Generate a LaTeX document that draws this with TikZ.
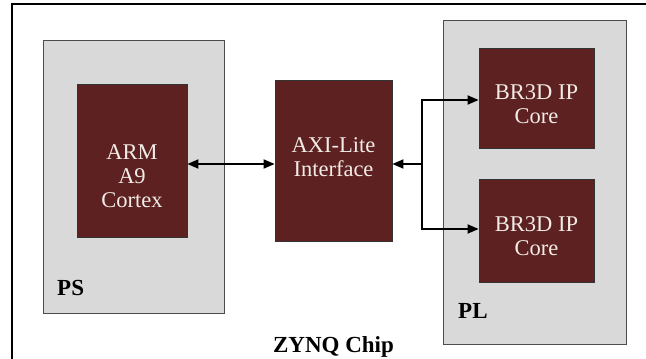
\documentclass[tikz,border=0pt]{standalone}
\usepackage{fontspec}
\setmainfont{Liberation Serif}
\usetikzlibrary{arrows.meta}
\definecolor{maroon}{HTML}{5E2121}
\definecolor{panelgray}{HTML}{D9D9D9}
\definecolor{boxtext}{HTML}{F2ECE6}
\tikzset{
  panel/.style={draw=black!70, line width=0.8pt, fill=panelgray, inner sep=0pt},
  core/.style={draw=black!80, line width=0.8pt, fill=maroon, inner sep=0pt},
  coretext/.style={text=boxtext, align=center, inner sep=0pt, font=\fontsize{22.5}{24}\selectfont},
  lbl/.style={inner sep=0pt, font=\fontsize{23}{26}\selectfont\bfseries},
  conn/.style={line width=1.8pt, line join=miter, -{Triangle[length=11pt,width=9pt]}},
  dconn/.style={line width=1.8pt, {Triangle[length=11pt,width=9pt]}-{Triangle[length=11pt,width=9pt]}}
}
\begin{document}
\begin{tikzpicture}[x=1pt,y=-1pt]
\useasboundingbox (0,0) rectangle (646,359);
% outer chip frame (cropped at right and bottom)
\draw[line width=1.5pt] (12,4) rectangle (680,380);
% panels
\node[panel, minimum width=181pt, minimum height=273pt] (PS) at (133.5,176.5) {};
\node[panel, minimum width=183pt, minimum height=324pt] (PL) at (534.5,182) {};
% cores
\node[core, minimum width=110pt, minimum height=153pt] (ARM) at (132,160.5) {};
\node[core, minimum width=117pt, minimum height=161pt] (AXI) at (333.5,160.5) {};
\node[core, minimum width=115pt, minimum height=100pt] (BR1) at (536.5,98) {};
\node[core, minimum width=115pt, minimum height=103pt] (BR2) at (536.5,230.5) {};
% texts
\node[coretext] (ARMt) at (132,176) {ARM\\A9\\Cortex};
\node[coretext] (AXIt) at (333.5,157.5) {AXI-Lite\\Interface};
\node[coretext] (BR1t) at (536.5,104.5) {BR3D IP\\Core};
\node[coretext] (BR2t) at (536.5,236.5) {BR3D IP\\Core};
\node[lbl, anchor=base west] (PSl) at (57,295) {PS};
\node[lbl, anchor=base west] (PLl) at (458,318) {PL};
\node[lbl, anchor=base] (chip) at (333.5,352) {ZYNQ Chip};
% connectors
\coordinate (ac) at (0,164);
\coordinate (br) at (422,164);
\coordinate (t1) at (422,100);
\coordinate (t2) at (422,229);
\draw[dconn] (ARM.east |- ac) -- (AXI.west |- ac);
\draw[conn] (br) -- (AXI.east |- br);
\draw[conn] (t2) -- (t1) -- (BR1.west |- t1);
\draw[conn] (t1) -- (t2) -- (BR2.west |- t2);
\end{tikzpicture}
\end{document}
